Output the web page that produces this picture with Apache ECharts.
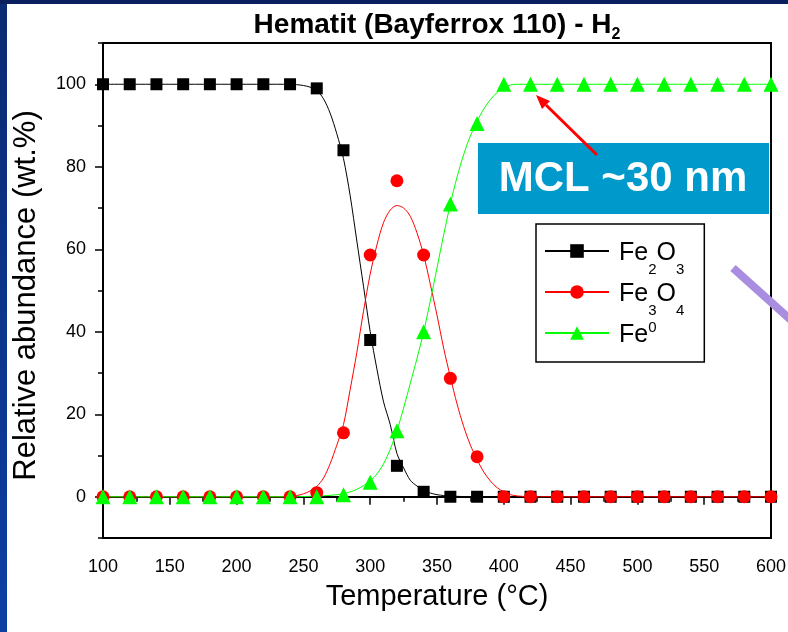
<!DOCTYPE html>
<html>
<head>
<meta charset="utf-8">
<script src="https://cdn.jsdelivr.net/npm/echarts@6/dist/echarts.min.js"></script>
<style>
html,body{margin:0;padding:0;background:#fff;}
#chart{width:788px;height:632px;}
</style>
</head>
<body>
<div id="chart"></div>
<script>
// ---- data ----
var TEMPS = [100,120,140,160,180,200,220,240,260,280,300,320,340,360,380,400,420,440,460,480,500,520,540,560,580,600];
var FE2O3 = [100,100,100,100,100,100,100,100,99,84,38,7.5,1.2,0,0,0,0,0,0,0,0,0,0,0,0,0];
var FE3O4 = [0,0,0,0,0,0,0,0,1,15.5,58.6,76.6,58.6,28.7,9.7,0,0,0,0,0,0,0,0,0,0,0];
var FE0   = [0,0,0,0,0,0,0,0,0,0.5,3.5,16,40,71,90.5,100,100,100,100,100,100,100,100,100,100,100];

// fit curves
var FIT_T = [100,150,200,230,240,245,250,255,260,265,270,275,280,285,290,295,300,305,310,315,320,325,330,335,340,345,350,355,360,365,370,375,380,385,390,395,400,405,410,420,450,500,550,600];
var FIT_FE2O3 = [100,100,100,100,100,99.9,99.7,99.3,98.5,96.5,93,88,82,73,62,51,40,31,23,17.5,10.5,7,4,2.6,1.5,0.9,0.5,0.3,0.15,0.1,0.05,0,0,0,0,0,0,0,0,0,0,0,0,0];
var FIT_FE3O4 = [0,0,0,0,0.1,0.3,0.7,1.4,2.5,4.5,8,12.5,17.5,26,35,45,54,61,66.5,69.5,70.6,70,68,64,58.6,51.5,44,36,29,22.5,17,12.5,9,6,3.8,2.2,1.2,0.5,0.2,0,0,0,0,0];
var FIT_FE0   = [0,0,0,0,0,0,0.05,0.1,0.15,0.25,0.35,0.5,0.75,1.2,1.8,2.7,3.8,5.5,8,11.5,16,21.5,27.5,33.5,40,47.5,55.5,63.5,71,77.5,83,87.5,91,94,96.3,98,99.2,99.8,100,100,100,100,100,100];

var SERIES_NAMES = ['Fe2O3','Fe3O4','Fe0'];
var LEGEND_LABELS = {
  'Fe2O3': '{m|Fe}{sub|2}{m|O}{sub|3}',
  'Fe3O4': '{m|Fe}{sub|3}{m|O}{sub|4}',
  'Fe0':   '{m|Fe}{sup|0}'
};
var X_TICKS_INTERVAL = 50;
var Y_MAJOR = [0,20,40,60,80,100];
var Y_MINOR = [-10,10,30,50,70,90,110];
var TITLE_MAIN = 'Hematit (Bayferrox 110) - H';
var TITLE_SUB = '2';
var X_NAME = 'Temperature (°C)';
var Y_NAME = 'Relative abundance (wt.%)';
var NOTE = 'MCL ~30 nm';

function pairs(xs, ys){ var out=[]; for (var i=0;i<xs.length;i++) out.push([xs[i], ys[i]]); return out; }

var FONT = '"Liberation Sans", Arial, sans-serif';
var COLORS = ['#000000', '#ff0000', '#00ff00'];
var SYMBOLS = ['rect', 'circle', 'triangle'];
var SIZES = [12, 13, 15];

var chart = echarts.init(document.getElementById('chart'), null, {renderer:'canvas'});

var series = [];
var fits = [FIT_FE2O3, FIT_FE3O4, FIT_FE0];
var pts = [FE2O3, FE3O4, FE0];
for (var i=0;i<3;i++){
  series.push({
    type:'line', name:SERIES_NAMES[i], data:pairs(FIT_T, fits[i]),
    showSymbol:false, symbol:SYMBOLS[i], symbolSize:SIZES[i],
    smooth:0.3, lineStyle:{color:COLORS[i], width:1},
    itemStyle:{color:COLORS[i]}, z:2, silent:true, animation:false
  });
}
for (var j=0;j<3;j++){
  series.push({
    type:'scatter', name:SERIES_NAMES[j], data:pairs(TEMPS, pts[j]),
    symbol:SYMBOLS[j], symbolSize:SIZES[j],
    itemStyle:{color:COLORS[j], opacity:1}, z:3+j, animation:false
  });
}

var option = {
  animation:false,
  backgroundColor:'#ffffff',
  textStyle:{fontFamily:FONT},
  grid:{left:103, right:17, top:43, bottom:94, show:true, borderColor:'#000', borderWidth:2, backgroundColor:'transparent', outerBoundsMode:'none', containLabel:false},
  xAxis:{
    type:'value', min:100, max:600, interval:X_TICKS_INTERVAL,
    axisLine:{show:true, lineStyle:{color:'#000', width:2}},
    axisTick:{show:true, length:8, lineStyle:{color:'#000', width:1.5}},
    minorTick:{show:true, splitNumber:2, length:5, lineStyle:{color:'#000', width:1.5}},
    splitLine:{show:false},
    axisLabel:{fontSize:18, margin:20, color:'#000', fontFamily:FONT},
    name:X_NAME, nameLocation:'middle', nameGap:44,
    nameTextStyle:{fontSize:29, color:'#000', fontFamily:FONT}
  },
  yAxis:[{
    type:'value', min:-10, max:110, position:'left',
    axisLine:{show:true, lineStyle:{color:'#000', width:2}},
    axisTick:{show:true, customValues:Y_MAJOR, length:8, lineStyle:{color:'#000', width:1.5}},
    axisLabel:{customValues:Y_MAJOR, fontSize:18, margin:17, color:'#000', fontFamily:FONT},
    splitLine:{show:false},
    name:Y_NAME, nameLocation:'middle', nameGap:61,
    nameTextStyle:{fontSize:31, color:'#000', fontFamily:FONT, padding:[0,10,0,0]}
  },{
    type:'value', min:-10, max:110, position:'left',
    axisLine:{show:false},
    axisTick:{show:true, customValues:Y_MINOR, length:5, lineStyle:{color:'#000', width:1.5}},
    axisLabel:{show:false},
    splitLine:{show:false}
  }],
  legend:{
    data:SERIES_NAMES, orient:'vertical', left:536, top:224,
    padding:[2, 20, 3, 8], itemWidth:64, itemHeight:17, itemGap:-10,
    borderColor:'#000', borderWidth:1.5, backgroundColor:'#fff',
    selectedMode:false,
    formatter:function(name){ return LEGEND_LABELS[name]; },
    textStyle:{
      color:'#000', fontFamily:FONT, padding:[0,0,22,5],
      rich:{
        m:{fontSize:25, lineHeight:28, padding:[15,0,0,0], verticalAlign:'top', fontFamily:FONT, color:'#000'},
        sub:{fontSize:15, lineHeight:15, padding:[36,0,0,0], verticalAlign:'top', fontFamily:FONT, color:'#000'},
        sup:{fontSize:15, lineHeight:15, padding:[12,0,24,0], verticalAlign:'top', fontFamily:FONT, color:'#000'}
      }
    }
  },
  series:series,
  graphic:[
    {type:'rect', z:100, shape:{x:0,y:0,width:7,height:632}, style:{fill:new echarts.graphic.LinearGradient(0,0,0,1,[{offset:0,color:'#0a2a72'},{offset:1,color:'#0d3fa3'}])}},
    {type:'rect', z:100, shape:{x:0,y:0,width:788,height:4}, style:{fill:'#0a1f5e'}},
    {type:'text', z:100, x:437, y:11, style:{
      text:'{b|'+TITLE_MAIN+'}{s|'+TITLE_SUB+'}', align:'center', verticalAlign:'top',
      rich:{
        b:{fontSize:28, fontWeight:'bold', lineHeight:32, verticalAlign:'top', fontFamily:FONT, fill:'#000'},
        s:{fontSize:16, fontWeight:'bold', lineHeight:16, padding:[16,0,0,0], verticalAlign:'top', fontFamily:FONT, fill:'#000'}
      }
    }},
    {type:'rect', z:100, shape:{x:478,y:143,width:291,height:71}, style:{fill:'#0099cc'}},
    {type:'text', z:101, x:623, y:179, style:{text:NOTE, fill:'#fff', fontSize:42, fontWeight:'bold', fontFamily:FONT, align:'center', verticalAlign:'middle'}},
    {type:'line', z:102, shape:{x1:597,y1:155,x2:546,y2:105}, style:{stroke:'#ff0000', lineWidth:3}},
    {type:'polygon', z:102, shape:{points:[[536,95],[550,101],[542,109]]}, style:{fill:'#ff0000'}},
    {type:'line', z:102, shape:{x1:733,y1:268,x2:792,y2:321}, style:{stroke:'#a98de0', lineWidth:8}}
  ]
};
chart.setOption(option);
</script>
</body>
</html>
